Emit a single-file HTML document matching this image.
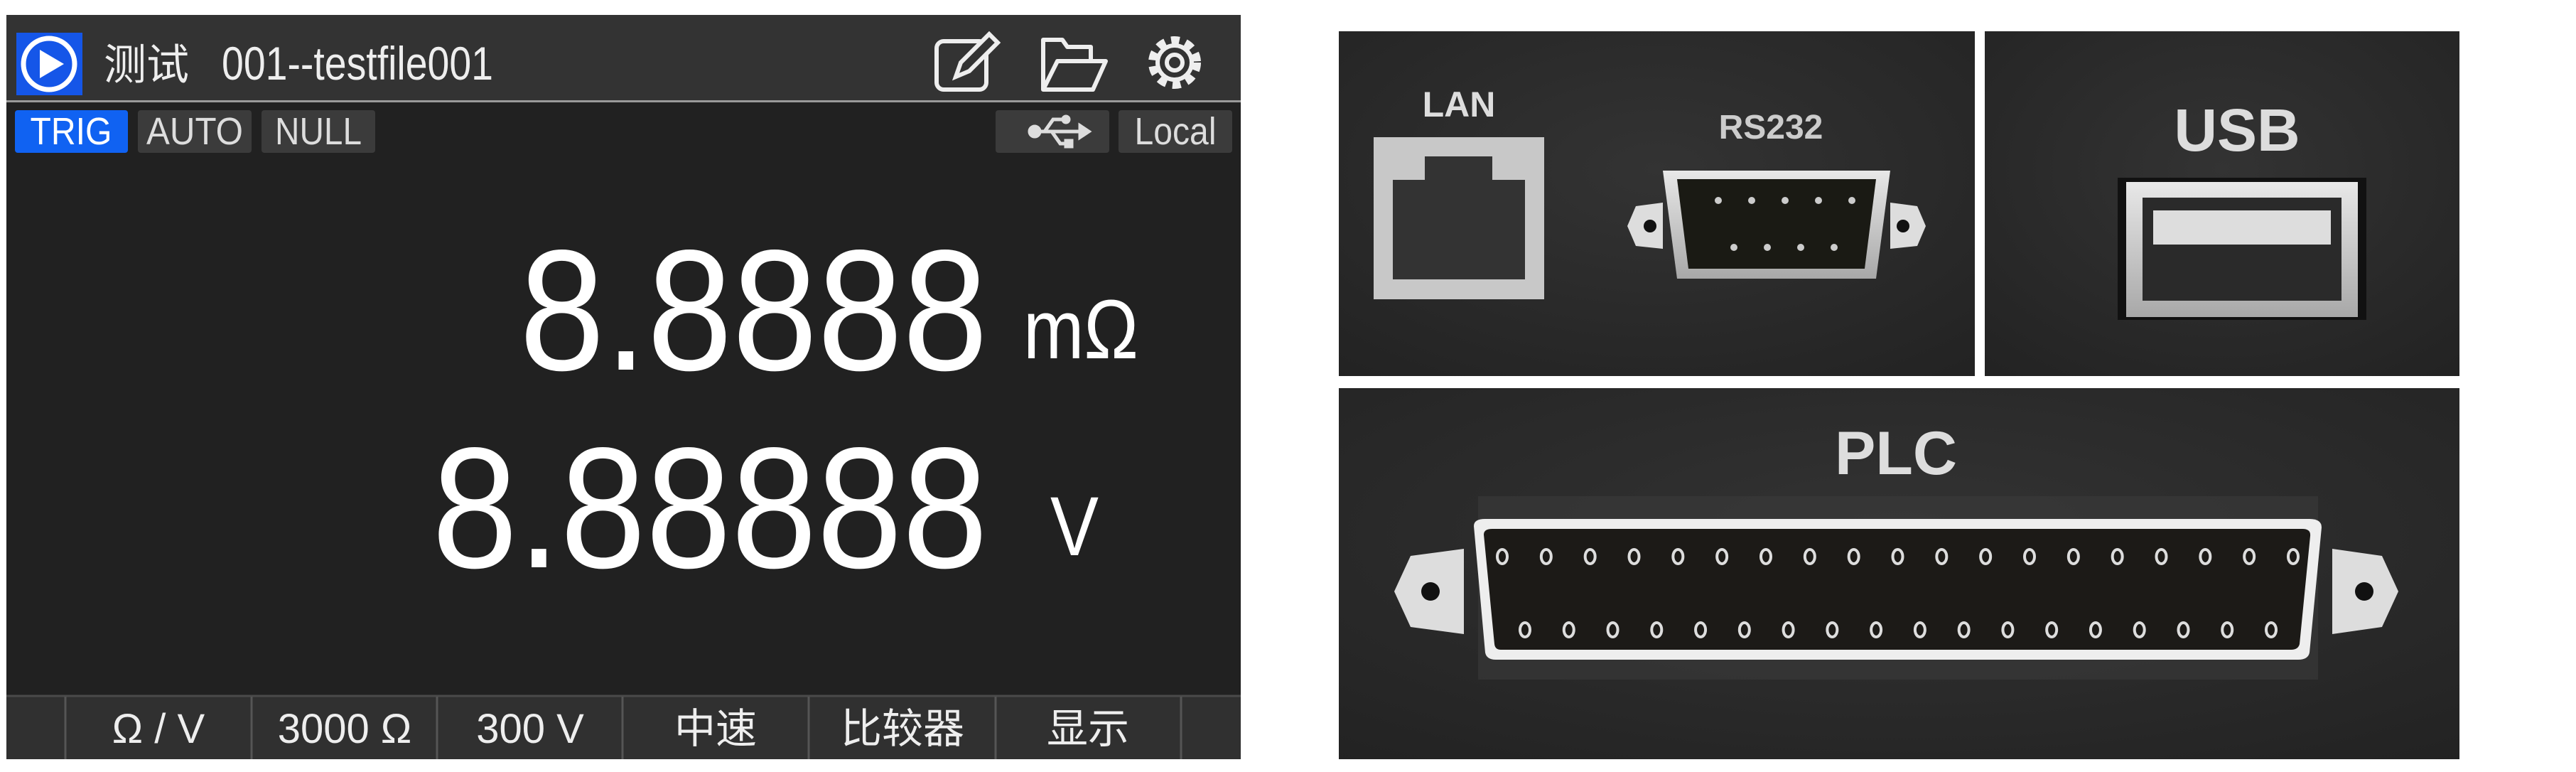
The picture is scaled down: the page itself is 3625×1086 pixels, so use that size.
<!DOCTYPE html>
<html><head><meta charset="utf-8"><style>
html,body{margin:0;padding:0;background:#fff;width:3625px;height:1086px;overflow:hidden}
svg{display:block}
text{font-family:"Liberation Sans","Noto Sans CJK SC",sans-serif}
</style></head><body>
<svg width="3625" height="1086" viewBox="0 0 3625 1086">
<defs>
<radialGradient id="pg" cx="0.5" cy="0.4" r="0.8"><stop offset="0" stop-color="#333"/><stop offset="1" stop-color="#222"/></radialGradient>
<linearGradient id="metal" x1="0" y1="0" x2="0" y2="1"><stop offset="0" stop-color="#e8e8e8"/><stop offset="1" stop-color="#a8a8a8"/></linearGradient>
</defs>
<!-- LEFT SCREEN -->
<g>
<rect x="9" y="21" width="1737" height="1047" fill="#212121"/>
<rect x="9" y="21" width="1737" height="122" fill="#333"/>
<rect x="9" y="141" width="1737" height="3" fill="#9a9a9a"/>
<g>
<rect x="23" y="46" width="93" height="88" fill="#1556e8"/>
<circle cx="69" cy="90" r="36" fill="none" stroke="#fff" stroke-width="7"/>
<path d="M56 70 L90 90 L56 110 Z" fill="#fff"/>
</g>
<text x="86" y="112" font-size="60" fill="#eee" style="font-family:'Noto Sans CJK SC',sans-serif" transform="translate(60,0)">测试</text>
<text x="312" y="112" font-size="66" fill="#eee" textLength="382" lengthAdjust="spacingAndGlyphs">001--testfile001</text>
<g fill="none" stroke="#eee" stroke-width="6">
<rect x="1318" y="58" width="70" height="68" rx="10"/>
<path d="M1345 108 L1352 88 L1392 48 L1404 60 L1364 100 Z" fill="#333"/>
</g>
<g fill="none" stroke="#eee" stroke-width="6" stroke-linejoin="round">
<path d="M1468 126 L1468 56 L1495 56 L1502 66 L1535 66 L1535 86"/>
<path d="M1468 126 L1488 86 L1556 86 L1538 126 Z"/>
</g>
<g>
<circle cx="1653" cy="88" r="30" fill="none" stroke="#eee" stroke-width="14" stroke-dasharray="11 8.5"/>
<circle cx="1653" cy="88" r="24" fill="none" stroke="#eee" stroke-width="6"/>
<circle cx="1653" cy="88" r="11" fill="none" stroke="#eee" stroke-width="6"/>
</g>
<g>
<rect x="21" y="155" width="159" height="60" rx="4" fill="#1062f2"/>
<text x="100" y="203" font-size="54" fill="#fff" text-anchor="middle" textLength="115" lengthAdjust="spacingAndGlyphs">TRIG</text>
<rect x="194" y="155" width="160" height="60" rx="4" fill="#3b3b3b"/>
<text x="274" y="203" font-size="54" fill="#ddd" text-anchor="middle" textLength="136" lengthAdjust="spacingAndGlyphs">AUTO</text>
<rect x="368" y="155" width="160" height="60" rx="4" fill="#3b3b3b"/>
<text x="448" y="203" font-size="54" fill="#ddd" text-anchor="middle" textLength="122" lengthAdjust="spacingAndGlyphs">NULL</text>
<rect x="1401" y="155" width="160" height="60" rx="4" fill="#3b3b3b"/>
<g stroke="#ddd" stroke-width="5" fill="#ddd">
<circle cx="1456" cy="185" r="7"/><line x1="1456" y1="185" x2="1520" y2="185"/>
<path d="M1520 177 L1532 185 L1520 193 Z"/>
<path d="M1470 185 L1482 168 L1498 168" fill="none"/><circle cx="1500" cy="168" r="4"/>
<path d="M1480 185 L1492 202 L1502 202" fill="none"/><rect x="1500" y="198" width="8" height="8"/>
</g>
<rect x="1574" y="155" width="160" height="60" rx="4" fill="#3b3b3b"/>
<text x="1654" y="203" font-size="54" fill="#ddd" text-anchor="middle" textLength="115" lengthAdjust="spacingAndGlyphs">Local</text>
</g>
<text x="731" y="520" font-size="242" fill="#fff" textLength="659" lengthAdjust="spacingAndGlyphs">8.8888</text>
<text x="1440" y="504" font-size="118" fill="#fff" textLength="162" lengthAdjust="spacingAndGlyphs">mΩ</text>
<text x="608" y="798" font-size="242" fill="#fff" textLength="782" lengthAdjust="spacingAndGlyphs">8.88888</text>
<text x="1478" y="781" font-size="118" fill="#fff" textLength="68" lengthAdjust="spacingAndGlyphs">V</text>
<g>
<rect x="9" y="978" width="1737" height="90" fill="#303030"/>
<line x1="9" y1="979" x2="1746" y2="979" stroke="#4a4a4a" stroke-width="3"/>
<g stroke="#555" stroke-width="3">
<line x1="92" y1="980" x2="92" y2="1068"/><line x1="354" y1="980" x2="354" y2="1068"/><line x1="615" y1="980" x2="615" y2="1068"/><line x1="876" y1="980" x2="876" y2="1068"/><line x1="1138" y1="980" x2="1138" y2="1068"/><line x1="1401" y1="980" x2="1401" y2="1068"/><line x1="1662" y1="980" x2="1662" y2="1068"/>
</g>
<g font-size="58" fill="#eee" text-anchor="middle">
<text x="223" y="1045">Ω / V</text>
<text x="485" y="1045">3000 Ω</text>
<text x="746" y="1045">300 V</text>
<text x="1007" y="1045">中速</text>
<text x="1270" y="1045">比较器</text>
<text x="1531" y="1045">显示</text>
</g>
</g>
</g>
<!-- RIGHT PANELS -->
<g>
<rect x="1884" y="44" width="895" height="485" fill="url(#pg)"/>
<rect x="2793" y="44" width="668" height="485" fill="url(#pg)"/>
<rect x="1884" y="546" width="1577" height="522" fill="url(#pg)"/>
<text x="2053" y="164" font-size="50" font-weight="bold" fill="#ddd" text-anchor="middle">LAN</text>
<g>
<rect x="1933" y="193" width="240" height="228" fill="#c8c8c8"/>
<path d="M1960 393 L1960 253 L2005 253 L2005 220 L2100 220 L2100 253 L2146 253 L2146 393 Z" fill="#333"/>
</g>
<text x="2492" y="195" font-size="48" font-weight="bold" fill="#ccc" text-anchor="middle">RS232</text>
<g>
<path d="M2290 318 L2302 290 L2340 285 L2340 350 L2302 346 Z" fill="#ddd"/>
<path d="M2710 318 L2698 290 L2660 285 L2660 350 L2698 346 Z" fill="#ddd"/>
<circle cx="2322" cy="318" r="9" fill="#111"/><circle cx="2678" cy="318" r="9" fill="#111"/>
<path d="M2340 240 L2660 240 L2640 392 L2360 392 Z" fill="url(#metal)"/>
<path d="M2360 252 L2640 252 L2624 378 L2376 378 Z" fill="#1a1a14"/>
<g fill="#ccc"><circle cx="2418" cy="282" r="5"/><circle cx="2465" cy="282" r="5"/><circle cx="2512" cy="282" r="5"/><circle cx="2559" cy="282" r="5"/><circle cx="2606" cy="282" r="5"/>
<circle cx="2440" cy="348" r="5"/><circle cx="2487" cy="348" r="5"/><circle cx="2534" cy="348" r="5"/><circle cx="2581" cy="348" r="5"/></g>
</g>
<text x="3148" y="212" font-size="84" font-weight="bold" fill="#ddd" text-anchor="middle">USB</text>
<g>
<rect x="2980" y="250" width="350" height="200" fill="#111"/>
<rect x="2992" y="256" width="326" height="190" fill="url(#metal)"/>
<rect x="3015" y="278" width="280" height="145" fill="#2a2a2a"/>
<rect x="3030" y="296" width="250" height="48" fill="#ddd"/>
</g>
<text x="2668" y="667" font-size="86" font-weight="bold" fill="#ddd" text-anchor="middle">PLC</text>
<g>
<rect x="2080" y="698" width="1182" height="258" fill="#3a3a3a" opacity="0.6"/>
<path d="M1962 832 L1985 782 L2060 772 L2060 892 L1985 882 Z" fill="#ddd"/>
<path d="M3375 832 L3352 782 L3282 772 L3282 892 L3352 882 Z" fill="#ddd"/>
<circle cx="2013" cy="832" r="13" fill="#111"/><circle cx="3327" cy="832" r="13" fill="#111"/>
<path d="M2074 740 Q2074 730 2090 730 L3250 730 Q3267 730 3267 742 L3250 918 Q3248 928 3234 928 L2105 928 Q2092 928 2090 918 Z" fill="#eee"/>
<path d="M2088 752 Q2088 744 2100 744 L3240 744 Q3252 744 3251 754 L3236 906 Q3234 914 3224 914 L2112 914 Q2104 914 2103 906 Z" fill="#1c1a17"/>
<g id="pins" fill="none" stroke="#ddd" stroke-width="4"></g>
</g>
</g>
</svg>
<script>
var topCount = 19, bottomCount = 18;
var g = document.getElementById('pins');
for (var i = 0; i < topCount; i++) {
  var c = document.createElementNS('http://www.w3.org/2000/svg', 'ellipse');
  c.setAttribute('cx', 2114 + i * (3227 - 2114) / (topCount - 1));
  c.setAttribute('cy', 783); c.setAttribute('rx', 7); c.setAttribute('ry', 10);
  
  
  g.appendChild(c);
}
for (var j = 0; j < bottomCount; j++) {
  var d = document.createElementNS('http://www.w3.org/2000/svg', 'ellipse');
  d.setAttribute('cx', 2146 + j * (3196 - 2146) / (bottomCount - 1));
  d.setAttribute('cy', 886); d.setAttribute('rx', 7); d.setAttribute('ry', 10);
  
  
  g.appendChild(d);
}
</script>
</body></html>
